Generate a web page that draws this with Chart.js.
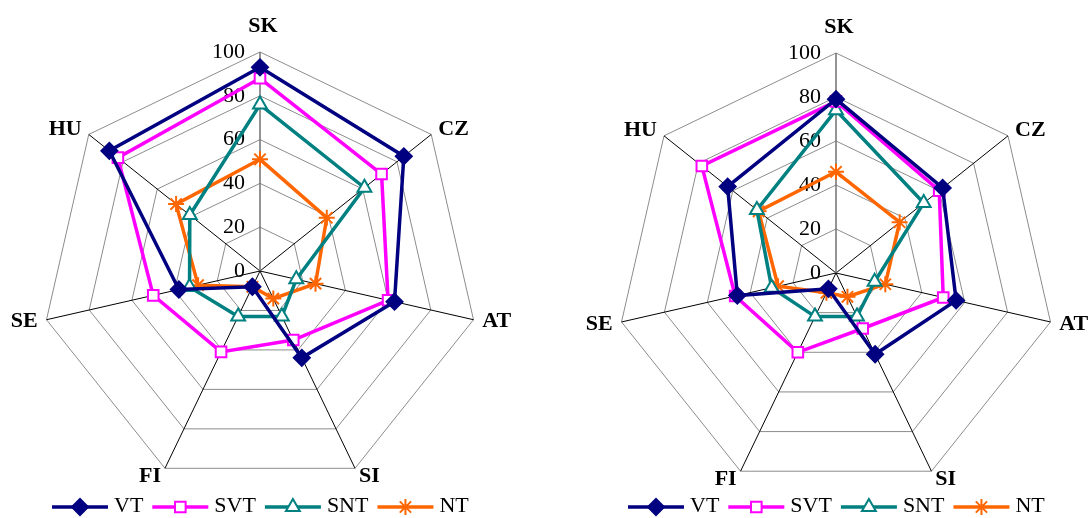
<!DOCTYPE html>
<html lang="en">
<head>
    <meta charset="UTF-8">
    <title>Radar charts</title>
    <style>
        body {
            margin: 0;
            background: #fff;
            width: 1088px;
            height: 518px;
            position: relative;
            overflow: hidden;
        }

        .panel {
            position: absolute;
            top: 0;
        }
    </style>
    <script src="https://cdn.jsdelivr.net/npm/chart.js"></script>
</head>

<body>
    <div class="panel" style="left:0px"><canvas id="radarA" width="520" height="518"></canvas></div>
    <div class="panel" style="left:560px"><canvas id="radarB" width="528" height="518"></canvas></div>

    <script>
        // categories (clockwise from the top)
        const categories = ['SK', 'CZ', 'AT', 'SI', 'FI', 'SE', 'HU'];
        const seriesNames = ['VT', 'SVT', 'SNT', 'NT'];
        const tickValues = [0, 20, 40, 60, 80, 100];

        // left chart
        const vtA = [93, 84, 63, 44, 8, 38, 88];
        const svtA = [88, 71, 60, 35, 41, 50, 83];
        const sntA = [76, 61, 17, 23, 23, 33, 41];
        const ntA = [51, 39, 26, 14, 8, 29, 49];

        // right chart
        const vtB = [79, 62, 56, 41, 8, 46, 63];
        const svtB = [78, 60, 50, 28, 40, 47, 78];
        const sntB = [74, 51, 18, 22, 22, 30, 46];
        const ntB = [46, 37, 23, 12, 10, 27, 45];

        const serif = '"Liberation Serif", "Times New Roman", serif';

        const styles = [
            { color: '#000080', fill: '#000080', pointStyle: 'rectRot', radius: 8 },
            { color: '#ff00ff', fill: '#ffffff', pointStyle: 'rect', radius: 7.5 },
            { color: '#008080', fill: '#ffffff', pointStyle: 'triangle', radius: 8 },
            { color: '#ff6600', fill: '#ff6600', pointStyle: 'star', radius: 8 }
        ];

        function makeDatasets(seriesList) {
            return seriesList.map((values, i) => ({
                label: seriesNames[i],
                data: values,
                borderColor: styles[i].color,
                backgroundColor: styles[i].fill,
                borderWidth: 3.5,
                fill: false,
                pointStyle: styles[i].pointStyle,
                pointRadius: styles[i].radius,
                pointBorderWidth: 2,
                pointBorderColor: styles[i].color,
                pointBackgroundColor: styles[i].fill
            }));
        }

        // ticks and category names, placed with the radial scale
        const textPlugin = {
            id: 'radarText',
            beforeDatasetsDraw(chart) {
                const s = chart.scales.r;
                const ctx = chart.ctx;
                ctx.save();
                ctx.fillStyle = '#000';
                ctx.textBaseline = 'middle';

                ctx.font = '22px ' + serif;
                ctx.textAlign = 'right';
                tickValues.forEach(v => {
                    const y = s.yCenter - s.getDistanceFromCenterForValue(v);
                    ctx.fillText(String(v), s.xCenter - 15, y);
                });

                ctx.font = 'bold 22px ' + serif;
                chart.data.labels.forEach((lab, i) => {
                    const end = s.getPointPosition(i, s.drawingArea);
                    const dx = end.x - s.xCenter;
                    const top = Math.abs(dx) < 1;
                    const p = s.getPointPosition(i, s.drawingArea + (top ? 26 : 9));
                    ctx.textAlign = top ? 'center' : (dx > 0 ? 'left' : 'right');
                    ctx.fillText(lab, p.x + (top ? 3 : 0), p.y);
                });
                ctx.restore();
            },
            afterDraw(chart) {
                // legend: line with marker, then name
                const ctx = chart.ctx;
                const opts = chart.options.plugins.radarText;
                let x = opts.legendX;
                const y = 507;
                ctx.save();
                ctx.font = '22px ' + serif;
                ctx.textAlign = 'left';
                ctx.textBaseline = 'middle';
                chart.data.datasets.forEach(ds => {
                    ctx.strokeStyle = ds.borderColor;
                    ctx.lineWidth = 3.5;
                    ctx.beginPath();
                    ctx.moveTo(x, y);
                    ctx.lineTo(x + 56, y);
                    ctx.stroke();
                    ctx.fillStyle = ds.pointBackgroundColor;
                    ctx.lineWidth = 2;
                    if (Chart.helpers && Chart.helpers.drawPoint) {
                        Chart.helpers.drawPoint(ctx, {
                            pointStyle: ds.pointStyle,
                            radius: ds.pointRadius,
                            rotation: 0,
                            borderWidth: 2
                        }, x + 28, y);
                    }
                    ctx.fillStyle = '#000';
                    ctx.fillText(ds.label, x + 62, y - 1);
                    x += 62 + ctx.measureText(ds.label).width + 9;
                });
                ctx.restore();
            }
        };

        function makeChart(id, seriesList, padding, legendX) {
            return new Chart(document.getElementById(id), {
                type: 'radar',
                data: {
                    labels: categories,
                    datasets: makeDatasets(seriesList)
                },
                options: {
                    responsive: false,
                    animation: false,
                    layout: { padding: padding },
                    plugins: {
                        legend: { display: false },
                        tooltip: { enabled: false },
                        radarText: { legendX: legendX }
                    },
                    elements: { line: { tension: 0 } },
                    scales: {
                        r: {
                            min: 0,
                            max: 100,
                            ticks: { stepSize: 20, display: false },
                            pointLabels: { display: false },
                            grid: { color: '#8c8c8c', lineWidth: 1 },
                            angleLines: {
                                color: c => c.index === 0 ? '#707070' : '#000000',
                                lineWidth: c => c.index === 0 ? 1.5 : 1
                            }
                        }
                    }
                },
                plugins: [textPlugin]
            });
        }

        window.onload = function () {
            makeChart('radarA', [vtA, svtA, sntA, ntA], { left: 41, right: 41, top: 52, bottom: 28 }, 52);
            makeChart('radarB', [vtB, svtB, sntB, ntB], { left: 56, right: 32, top: 53, bottom: 25 }, 68);
        };
    </script>
</body>

</html>
